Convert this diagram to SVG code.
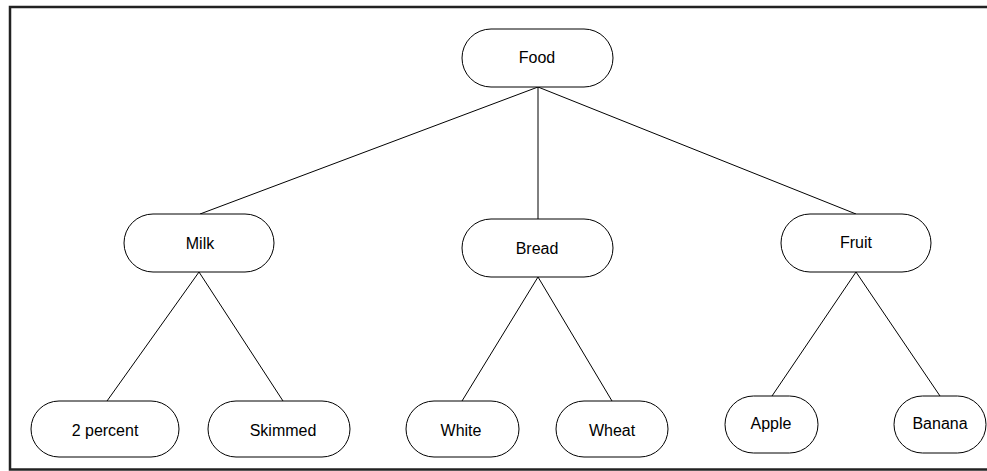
<svg xmlns="http://www.w3.org/2000/svg" width="987" height="471" viewBox="0 0 987 471">
<style>
.node rect{fill:#fff;stroke:#000;stroke-width:1}
.node text{font-family:"Liberation Sans",Arial,sans-serif;font-size:16px;fill:#000;text-anchor:middle}
.conn line{stroke:#000;stroke-width:1}
</style>
<rect x="0" y="0" width="987" height="471" fill="#fff"/>
<rect x="10" y="7" width="990" height="462.5" fill="none" stroke="#222" stroke-width="2.5"/>
<g id="connectors" class="conn">
<line x1="538" y1="87" x2="200" y2="214"/>
<line x1="538" y1="87" x2="538" y2="219"/>
<line x1="538" y1="87" x2="856" y2="214"/>
<line x1="199" y1="272" x2="107" y2="401"/>
<line x1="199" y1="272" x2="283" y2="401"/>
<line x1="538" y1="277" x2="462" y2="401"/>
<line x1="538" y1="277" x2="612" y2="401"/>
<line x1="856" y1="272" x2="772" y2="396"/>
<line x1="856" y1="272" x2="940" y2="396"/>
</g>
<g id="food" class="node"><rect x="462" y="29" width="151" height="58" rx="29"/><text x="537" y="63">Food</text></g>
<g id="milk" class="node"><rect x="124" y="214" width="150" height="58" rx="29"/><text x="200" y="248.5">Milk</text></g>
<g id="bread" class="node"><rect x="462" y="219" width="151" height="58" rx="29"/><text x="537" y="253.5">Bread</text></g>
<g id="fruit" class="node"><rect x="781" y="214" width="150" height="58" rx="29"/><text x="856" y="247.5">Fruit</text></g>
<g id="two-percent" class="node"><rect x="31" y="401" width="148" height="56" rx="28"/><text x="105" y="435.5">2 percent</text></g>
<g id="skimmed" class="node"><rect x="208" y="401" width="142" height="56" rx="28"/><text x="283" y="435.5">Skimmed</text></g>
<g id="white" class="node"><rect x="406" y="401" width="113" height="56" rx="28"/><text x="461" y="435.5">White</text></g>
<g id="wheat" class="node"><rect x="556" y="401" width="112" height="56" rx="28"/><text x="612" y="435.5">Wheat</text></g>
<g id="apple" class="node"><rect x="725" y="396" width="93" height="57" rx="28.5"/><text x="771" y="428.5">Apple</text></g>
<g id="banana" class="node"><rect x="894" y="396" width="92" height="57" rx="28.5"/><text x="940" y="428.5">Banana</text></g>
</svg>
